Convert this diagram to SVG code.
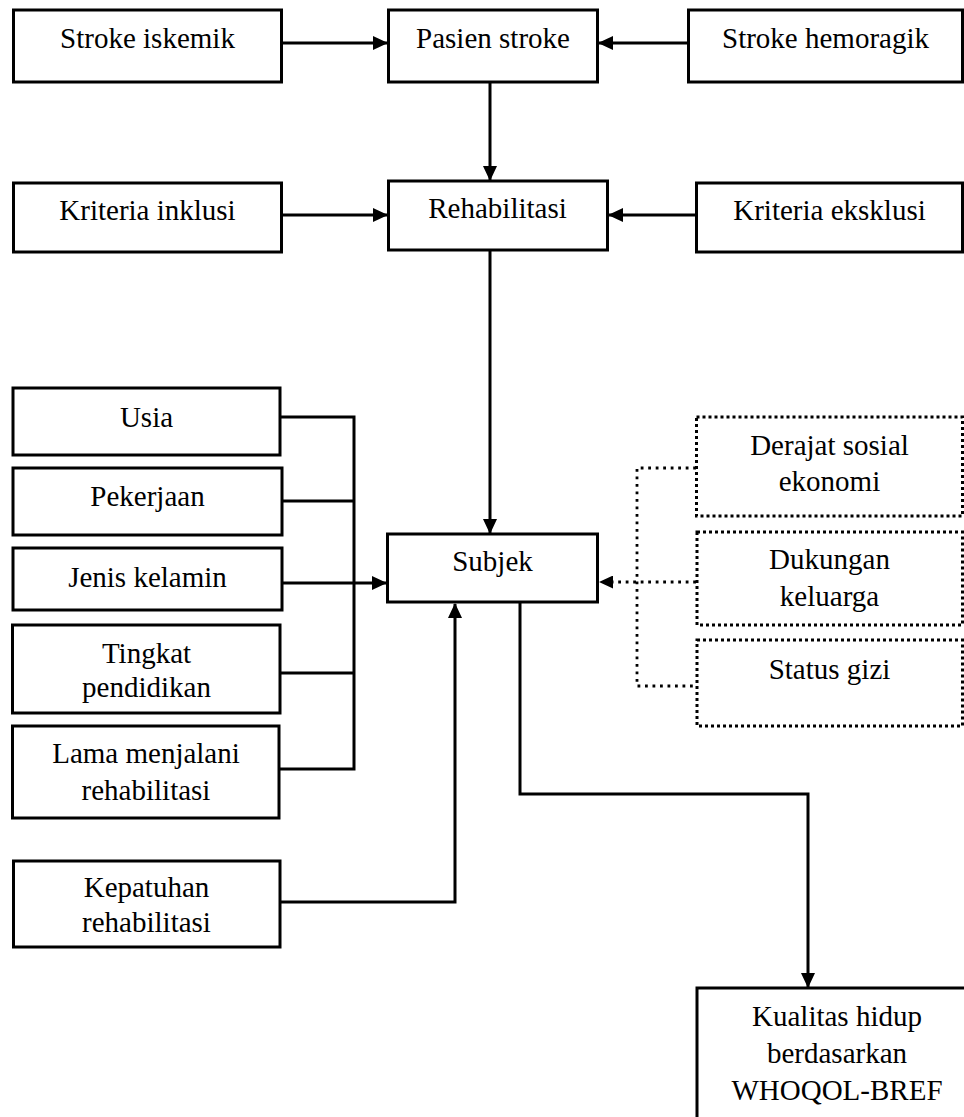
<svg xmlns="http://www.w3.org/2000/svg" width="964" height="1117" viewBox="0 0 964 1117" font-family="Liberation Serif, Times New Roman, serif">
  <style>
    .box { fill: #ffffff; stroke: #000000; stroke-width: 3; }
    .dbox { fill: #ffffff; stroke: #000000; stroke-width: 3; stroke-dasharray: 3 3; }
    .t { font-size: 29px; fill: #000000; text-anchor: middle; }
    .ln { fill: none; stroke: #000000; stroke-width: 3; }
    .dl { fill: none; stroke: #000000; stroke-width: 2.8; stroke-dasharray: 2.8 4.7; }
  </style>
  <defs>
    <marker id="arr" markerWidth="15" markerHeight="14" refX="14" refY="7" orient="auto" markerUnits="userSpaceOnUse">
      <path d="M0,0 L15,7 L0,14 Z" fill="#000000"/>
    </marker>
    <marker id="arrs" markerWidth="14" markerHeight="13" refX="13" refY="6.5" orient="auto" markerUnits="userSpaceOnUse">
      <path d="M0,0 L14,6.5 L0,13 Z" fill="#000000"/>
    </marker>
  </defs>
  <rect width="964" height="1117" fill="#ffffff"/>

  <g id="connectors">
    <line class="ln" x1="281" y1="43" x2="387" y2="43" marker-end="url(#arr)"/>
    <line class="ln" x1="688" y1="43" x2="599" y2="43" marker-end="url(#arr)"/>
    <line class="ln" x1="490" y1="82" x2="490" y2="180" marker-end="url(#arr)"/>
    <line class="ln" x1="281" y1="215" x2="387" y2="215" marker-end="url(#arr)"/>
    <line class="ln" x1="696" y1="215" x2="609" y2="215" marker-end="url(#arr)"/>
    <line class="ln" x1="490" y1="250" x2="490" y2="533" marker-end="url(#arr)"/>
    <polyline class="ln" points="280,417 354,417 354,769 279,769"/>
    <line class="ln" x1="282" y1="501" x2="354" y2="501"/>
    <line class="ln" x1="280" y1="673" x2="354" y2="673"/>
    <line class="ln" x1="282" y1="583" x2="386" y2="583" marker-end="url(#arr)"/>
    <polyline class="ln" points="280,902 455,902 455,604" marker-end="url(#arr)"/>
    <polyline class="ln" points="520,602 520,794 808,794 808,987" marker-end="url(#arr)"/>
    <polyline class="dl" points="696,468 637,468 637,686 696,686"/>
    <line class="dl" x1="696" y1="582" x2="600" y2="582" marker-end="url(#arrs)"/>
  </g>

  <g id="stroke-iskemik">
    <rect class="box" x="13.5" y="10" width="268" height="72"/>
    <text class="t" x="147.5" y="48">Stroke iskemik</text>
  </g>
  <g id="pasien-stroke">
    <rect class="box" x="388.5" y="10" width="209" height="72"/>
    <text class="t" x="493" y="48">Pasien stroke</text>
  </g>
  <g id="stroke-hemoragik">
    <rect class="box" x="688.5" y="10" width="274" height="72"/>
    <text class="t" x="825.5" y="48">Stroke hemoragik</text>
  </g>
  <g id="kriteria-inklusi">
    <rect class="box" x="13.5" y="183" width="268" height="69"/>
    <text class="t" x="147.5" y="220">Kriteria inklusi</text>
  </g>
  <g id="rehabilitasi">
    <rect class="box" x="388.5" y="181" width="219" height="69"/>
    <text class="t" x="497.5" y="218">Rehabilitasi</text>
  </g>
  <g id="kriteria-eksklusi">
    <rect class="box" x="696.5" y="183" width="266" height="69"/>
    <text class="t" x="829.5" y="220">Kriteria eksklusi</text>
  </g>

  <g id="usia">
    <rect class="box" x="13" y="388" width="267" height="67"/>
    <text class="t" x="146.5" y="427">Usia</text>
  </g>
  <g id="pekerjaan">
    <rect class="box" x="13" y="468" width="269" height="67"/>
    <text class="t" x="147.5" y="506">Pekerjaan</text>
  </g>
  <g id="jenis-kelamin">
    <rect class="box" x="13" y="548" width="269" height="62"/>
    <text class="t" x="147.5" y="587">Jenis kelamin</text>
  </g>
  <g id="tingkat-pendidikan">
    <rect class="box" x="12.5" y="625" width="267.5" height="88"/>
    <text class="t" x="146.5" y="663">Tingkat</text>
    <text class="t" x="146.5" y="697">pendidikan</text>
  </g>
  <g id="lama-menjalani">
    <rect class="box" x="12.5" y="726" width="266.5" height="92"/>
    <text class="t" x="146" y="763">Lama menjalani</text>
    <text class="t" x="146" y="800">rehabilitasi</text>
  </g>
  <g id="kepatuhan">
    <rect class="box" x="13.5" y="861" width="266.5" height="86"/>
    <text class="t" x="146.5" y="897">Kepatuhan</text>
    <text class="t" x="146.5" y="932">rehabilitasi</text>
  </g>

  <g id="subjek">
    <rect class="box" x="387.5" y="534" width="210" height="68"/>
    <text class="t" x="492.5" y="571">Subjek</text>
  </g>

  <g id="derajat-sosial-ekonomi">
    <rect class="dbox" x="696.5" y="417" width="266" height="99"/>
    <text class="t" x="829.5" y="455">Derajat sosial</text>
    <text class="t" x="829.5" y="491">ekonomi</text>
  </g>
  <g id="dukungan-keluarga">
    <rect class="dbox" x="697" y="532" width="265.5" height="93"/>
    <text class="t" x="829.5" y="569">Dukungan</text>
    <text class="t" x="829.5" y="606">keluarga</text>
  </g>
  <g id="status-gizi">
    <rect class="dbox" x="697" y="640" width="265.5" height="86"/>
    <text class="t" x="829.5" y="679">Status gizi</text>
  </g>

  <g id="kualitas-hidup">
    <rect class="box" x="697" y="988" width="280" height="140"/>
    <text class="t" x="837" y="1026">Kualitas hidup</text>
    <text class="t" x="837" y="1063">berdasarkan</text>
    <text class="t" x="837" y="1100">WHOQOL-BREF</text>
  </g>
</svg>
